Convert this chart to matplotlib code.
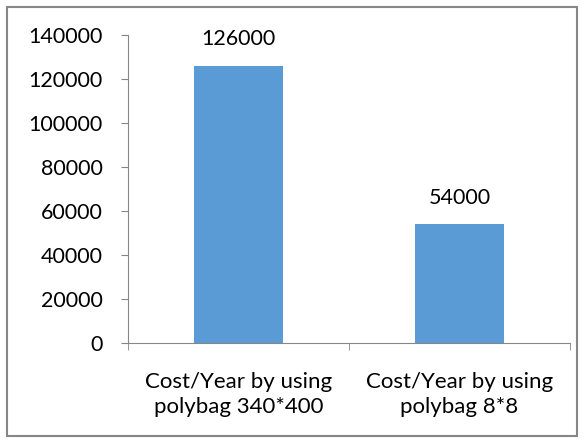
import matplotlib.pyplot as plt
from matplotlib.patches import Rectangle

categories = ["Cost/Year by using\npolybag 340*400", "Cost/Year by using\npolybag 8*8"]
costs = [126000, 54000]
yticks = [0, 20000, 40000, 60000, 80000, 100000, 120000, 140000]

plt.rcParams['font.family'] = ['Lato', 'DejaVu Sans']
axis_col = '#868686'
fs = 15.5

fig = plt.figure(figsize=(5.84, 4.41), dpi=100)
ax = fig.add_axes([0.219, 0.222, 0.757, 0.699])

x = range(len(categories))
bars = ax.bar(x, costs, width=0.4, color='#5B9BD5')

for b, v in zip(bars, costs):
    ax.annotate(str(v), (b.get_x() + b.get_width() / 2, v), xytext=(0, 12),
                textcoords='offset points', ha='center', va='bottom', fontsize=fs)

ax.set_xlim(-0.5, 1.5)
ax.set_ylim(0, 140000)
ax.set_yticks(yticks)
ax.set_yticklabels([str(t) for t in yticks], fontsize=fs)
ax.set_xticks(list(x))
ax.set_xticklabels(categories, fontsize=16, linespacing=1.3)
ax.set_xticks([-0.5, 0.5, 1.5], minor=True)
ax.tick_params(axis='x', which='major', length=0, pad=21)
ax.tick_params(axis='x', which='minor', length=5, color=axis_col, direction='out')
ax.tick_params(axis='y', length=5, color=axis_col, direction='out', pad=13)

for s in ['top', 'right']:
    ax.spines[s].set_visible(False)
for s in ['left', 'bottom']:
    ax.spines[s].set_color(axis_col)

fig.patches.append(Rectangle((0.012, 0.012), 0.976, 0.972, transform=fig.transFigure,
                             fill=False, edgecolor='#868686', linewidth=1.5))

fig.savefig('out.png', dpi=100)
